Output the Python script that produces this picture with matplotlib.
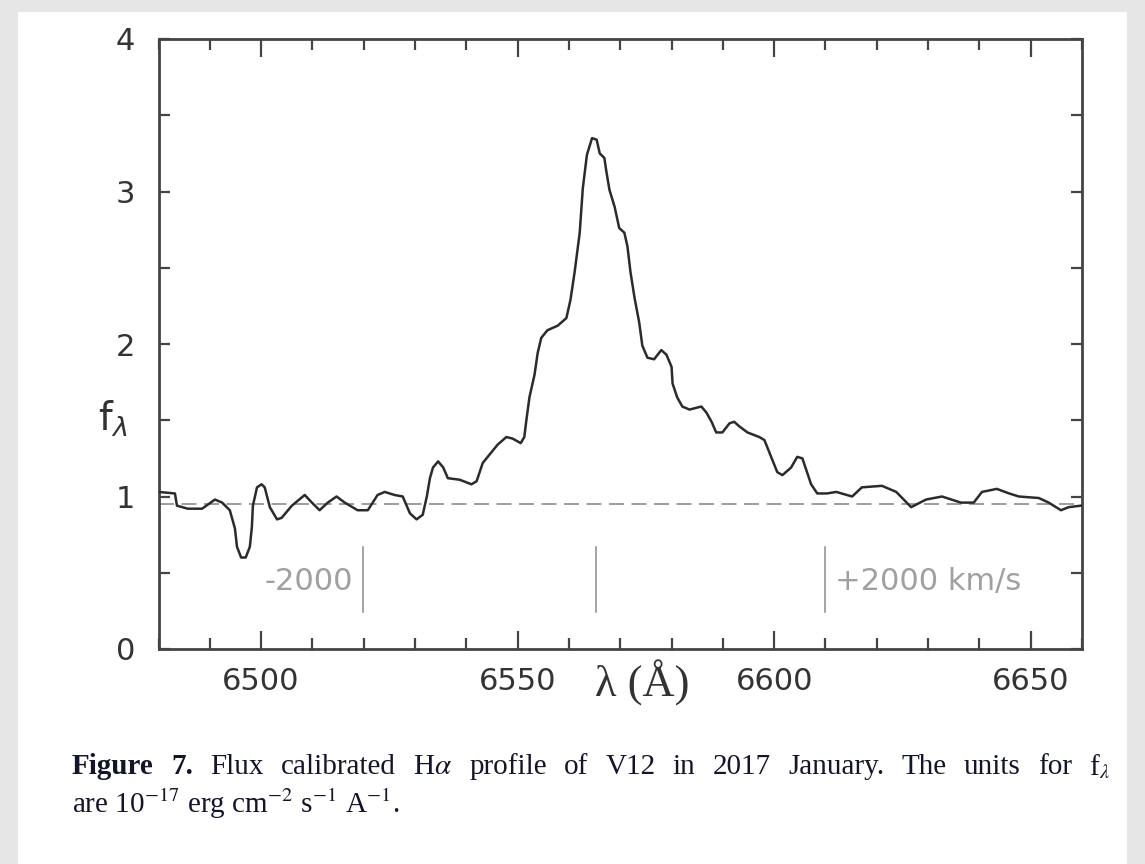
import matplotlib
matplotlib.use('Agg')
import matplotlib.pyplot as plt
from matplotlib.ticker import MultipleLocator
from matplotlib.patches import Rectangle

# H-alpha profile
wave = [6480.0, 6483.2, 6483.6, 6485.7, 6488.5, 6491.0, 6492.4, 6493.9, 6494.9, 6495.3,
        6496.1, 6497.0, 6497.8, 6498.2, 6498.4, 6499.2, 6500.1, 6500.7, 6501.7, 6503.1,
        6504.0, 6506.0, 6508.5, 6509.9, 6511.4, 6513.0, 6514.7, 6516.3, 6518.8, 6520.8,
        6522.7, 6524.1, 6526.0, 6527.6, 6529.0, 6530.3, 6531.5, 6532.3, 6532.9, 6533.5,
        6534.5, 6535.5, 6536.4, 6538.7, 6541.0, 6542.0, 6543.2, 6544.9, 6546.1, 6547.8,
        6549.0, 6550.6, 6551.3, 6551.7, 6552.3, 6553.3, 6553.9, 6554.6, 6555.8, 6557.8,
        6559.5, 6560.3, 6561.1, 6562.1, 6562.7, 6563.5, 6564.5, 6565.4, 6566.0, 6566.9,
        6567.3, 6567.9, 6568.9, 6569.8, 6570.8, 6571.4, 6572.0, 6572.8, 6573.7, 6574.3,
        6575.3, 6576.6, 6578.0, 6579.0, 6580.0, 6580.2, 6581.1, 6582.1, 6583.5, 6585.8,
        6586.8, 6587.8, 6588.7, 6589.9, 6591.3, 6592.2, 6593.2, 6594.8, 6597.1, 6598.1,
        6599.4, 6600.6, 6601.6, 6603.3, 6604.5, 6605.5, 6606.4, 6607.2, 6608.4, 6610.3,
        6612.1, 6615.2, 6617.1, 6621.0, 6623.8, 6626.7, 6629.6, 6632.7, 6636.4, 6638.9,
        6640.5, 6643.4, 6645.8, 6647.7, 6651.6, 6653.5, 6655.9, 6657.4, 6659.8]
flux = [1.03, 1.02, 0.94, 0.92, 0.92, 0.98, 0.96, 0.91, 0.79, 0.67,
        0.60, 0.60, 0.67, 0.80, 0.94, 1.06, 1.08, 1.06, 0.93, 0.85,
        0.86, 0.94, 1.01, 0.96, 0.91, 0.96, 1.00, 0.96, 0.91, 0.91,
        1.01, 1.03, 1.01, 1.00, 0.89, 0.85, 0.88, 1.00, 1.12, 1.19,
        1.23, 1.19, 1.12, 1.11, 1.08, 1.10, 1.22, 1.29, 1.34, 1.39,
        1.38, 1.35, 1.39, 1.50, 1.65, 1.80, 1.94, 2.04, 2.09, 2.12,
        2.17, 2.29, 2.47, 2.73, 3.02, 3.24, 3.35, 3.34, 3.25, 3.22,
        3.13, 3.01, 2.90, 2.76, 2.73, 2.64, 2.47, 2.30, 2.14, 1.99,
        1.91, 1.90, 1.96, 1.93, 1.85, 1.74, 1.65, 1.59, 1.57, 1.59,
        1.55, 1.49, 1.42, 1.42, 1.48, 1.49, 1.46, 1.42, 1.39, 1.37,
        1.26, 1.16, 1.14, 1.19, 1.26, 1.25, 1.16, 1.08, 1.02, 1.02,
        1.03, 1.00, 1.06, 1.07, 1.03, 0.93, 0.98, 1.00, 0.96, 0.96,
        1.03, 1.05, 1.02, 1.00, 0.99, 0.96, 0.91, 0.93, 0.94]

continuum = 0.95
vel_marks = [6519.8, 6565.2, 6610.0]   # -2000, 0, +2000 km/s
x_ticks = [6500, 6550, 6600, 6650]
y_ticks = [0, 1, 2, 3, 4]

plt.rcParams['mathtext.fontset'] = 'stix'

fig = plt.figure(figsize=(11.45, 8.64), dpi=100, facecolor='#e6e6e6')
# white page on the grey frame
fig.patches.append(Rectangle((18 / 1145, 0), (1127 - 18) / 1145, 1 - 12 / 864,
                             transform=fig.transFigure, facecolor='white',
                             edgecolor='none', zorder=-5))

ax = fig.add_axes([158.5 / 1145, 1 - 649 / 864, (1082 - 158.5) / 1145, (649 - 39) / 864])
ax.plot(wave, flux, color='#2b2b2b', lw=1.8, zorder=3)
ax.axhline(continuum, color='#8c8c8c', lw=1.2, dashes=(9, 4.5), zorder=2)
for v in vel_marks:
    ax.plot([v, v], [0.24, 0.67], color='#8c8c8c', lw=1.1)
ax.text(vel_marks[0] - 1.8, 0.44, '-2000', ha='right', va='center',
        color='#a0a0a0', fontsize=22)
ax.text(vel_marks[2] + 1.8, 0.44, '+2000 km/s', ha='left', va='center',
        color='#a0a0a0', fontsize=22)

ax.set_xlim(6480, 6660)
ax.set_ylim(0, 4)
ax.set_xticks(x_ticks)
ax.set_yticks(y_ticks)
ax.xaxis.set_minor_locator(MultipleLocator(10))
ax.yaxis.set_minor_locator(MultipleLocator(0.5))
ax.tick_params(which='both', direction='in', top=True, right=True,
               color='#444444', width=1.6, labelsize=22, labelcolor='#333333')
ax.tick_params(axis='x', which='major', length=13, pad=13)
ax.tick_params(axis='x', which='minor', length=8)
ax.tick_params(axis='y', which='both', length=8, pad=17)
for s in ax.spines.values():
    s.set_color('#444444')
    s.set_linewidth(2)

ax.text(-0.05, 1.51, r'f$_\lambda$', transform=ax.get_yaxis_transform(),
        ha='center', va='center', fontsize=28, color='#333333',
        math_fontfamily='dejavusans')
fig.text(642 / 1145, 1 - 683 / 864, 'λ (Å)', family='Liberation Serif',
         fontsize=32, ha='center', va='center', color='#333333')

# caption, first line justified across the page
cap_col = '#15152a'
cap_size = 21
line1 = [('Figure', 'bold'), ('7.', 'bold'), ('Flux', 'normal'), ('calibrated', 'normal'),
         (r'H$\alpha$', 'normal'), ('profile', 'normal'), ('of', 'normal'), ('V12', 'normal'),
         ('in', 'normal'), ('2017', 'normal'), ('January.', 'normal'), ('The', 'normal'),
         ('units', 'normal'), ('for', 'normal'), (r'f$_\lambda$', 'normal')]
x0, x1 = 72, 1110
fig.canvas.draw()
r = fig.canvas.get_renderer()
words = []
for w, wt in line1:
    t = fig.text(0, 1 - 767 / 864, w, family='Liberation Serif', weight=wt,
                 fontsize=cap_size, va='center', color=cap_col)
    words.append(t)
widths = [t.get_window_extent(r).width for t in words]
gap = (x1 - x0 - sum(widths)) / (len(words) - 1)
xp = x0
for t, wd in zip(words, widths):
    t.set_x(xp / 1145)
    xp += wd + gap
fig.text(x0 / 1145, 1 - 804 / 864,
         r'are 10$^{-17}$ erg cm$^{-2}$ s$^{-1}$ A$^{-1}$.',
         family='Liberation Serif', fontsize=cap_size, va='center', color=cap_col)

fig.savefig('out.png', dpi=100, facecolor=fig.get_facecolor())
